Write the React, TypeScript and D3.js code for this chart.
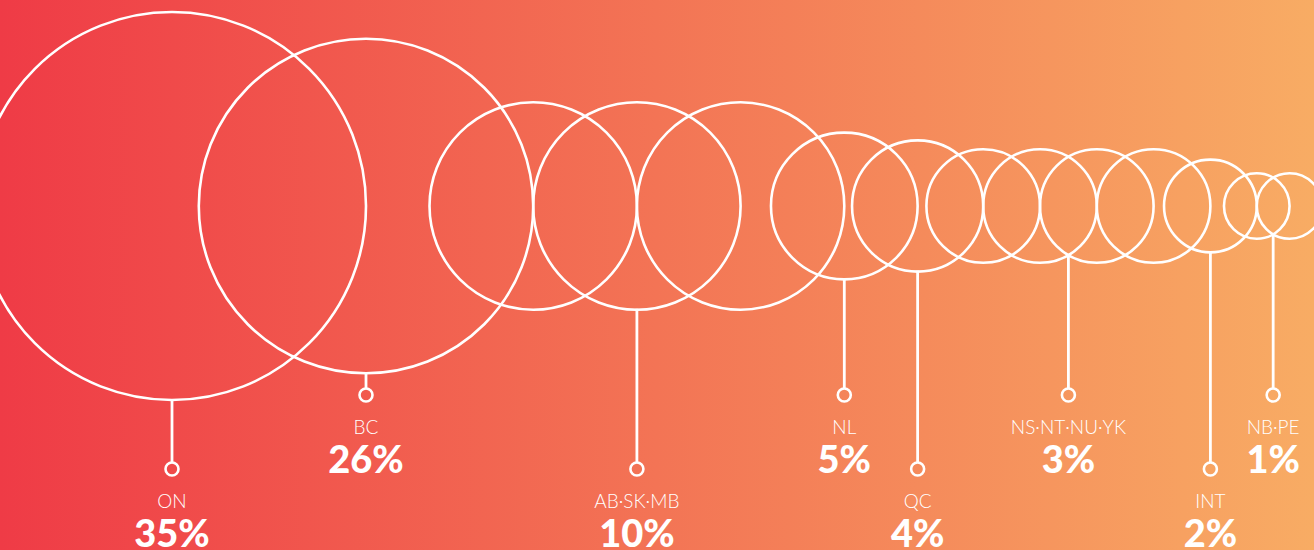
import { useEffect, useRef } from "react";
import * as d3 from "d3";

// regions, share of total, and how many circles each group repeats
const regions = ["ON", "BC", "AB·SK·MB", "NL", "QC", "NS·NT·NU·YK", "INT", "NB·PE"];
const shares = [35, 26, 10, 5, 4, 3, 2, 1];
const circleCounts = [1, 1, 3, 1, 1, 4, 1, 2];
const shareLabels = ["35%", "26%", "10%", "5%", "4%", "3%", "2%", "1%"];

function App() {
  const svgRef = useRef(null);

  useEffect(() => {
    const width = 1314;
    const height = 550;
    const cy = 206;
    const startX = 172;
    const lowDot = 469;
    const highDot = 395;
    const dotR = 6.5;

    const svg = d3.select(svgRef.current).attr("width", width).attr("height", height);
    svg.selectAll("*").remove();

    const defs = svg.append("defs");
    const grad = defs
      .append("linearGradient")
      .attr("id", "bg")
      .attr("x1", "0%")
      .attr("x2", "100%")
      .attr("y1", "0%")
      .attr("y2", "0%");
    grad.append("stop").attr("offset", "0%").attr("stop-color", "#EF3B46");
    grad.append("stop").attr("offset", "50%").attr("stop-color", "#F37455");
    grad.append("stop").attr("offset", "100%").attr("stop-color", "#F8AC64");

    svg.append("rect").attr("width", width).attr("height", height).attr("fill", "url(#bg)");

    const rScale = d3.scaleSqrt().domain([0, 35]).range([0, 194]);

    // each circle sits one radius of the previous circle further right
    const circles = [];
    let x = startX;
    let prevR = null;
    regions.forEach((name, gi) => {
      const r = rScale(shares[gi]);
      for (let k = 0; k < circleCounts[gi]; k++) {
        if (prevR !== null) x += prevR;
        circles.push({ gi, cx: x, r });
        prevR = r;
      }
    });

    svg
      .append("g")
      .selectAll("circle")
      .data(circles)
      .enter()
      .append("circle")
      .attr("cx", (d) => d.cx)
      .attr("cy", cy)
      .attr("r", (d) => d.r)
      .attr("fill", "none")
      .attr("stroke", "white")
      .attr("stroke-width", 2.6);

    const groups = regions.map((name, gi) => {
      const own = circles.filter((c) => c.gi === gi);
      const sx = d3.mean(own, (c) => c.cx);
      const y0 = d3.max(own, (c) => {
        const dx = sx - c.cx;
        return Math.abs(dx) < c.r ? cy + Math.sqrt(c.r * c.r - dx * dx) : cy;
      });
      const dotY = gi % 2 === 0 ? lowDot : highDot;
      return { name, label: shareLabels[gi], sx, y0, dotY };
    });

    const g = svg.append("g").selectAll("g").data(groups).enter().append("g");

    g.append("line")
      .attr("x1", (d) => d.sx)
      .attr("x2", (d) => d.sx)
      .attr("y1", (d) => d.y0 - 1)
      .attr("y2", (d) => d.dotY - dotR)
      .attr("stroke", "white")
      .attr("stroke-width", 2.8);

    g.append("circle")
      .attr("cx", (d) => d.sx)
      .attr("cy", (d) => d.dotY)
      .attr("r", dotR)
      .attr("fill", "none")
      .attr("stroke", "white")
      .attr("stroke-width", 2.6);

    g.append("text")
      .attr("x", (d) => d.sx)
      .attr("y", (d) => d.dotY + 39)
      .attr("text-anchor", "middle")
      .attr("fill", "white")
      .style("font-family", "Lato, 'Open Sans', sans-serif")
      .style("font-weight", 300)
      .style("font-size", "19px")
      .text((d) => d.name);

    g.append("text")
      .attr("x", (d) => d.sx)
      .attr("y", (d) => d.dotY + 78)
      .attr("text-anchor", "middle")
      .attr("fill", "white")
      .style("font-family", "Lato, 'Open Sans', sans-serif")
      .style("font-weight", 900)
      .style("font-size", "38px")
      .text((d) => d.label);
  }, []);

  return (
    <>
      <style>{`body{margin:0;overflow:hidden}`}</style>
      <svg ref={svgRef} style={{ display: "block" }}></svg>
    </>
  );
}

export default App;
